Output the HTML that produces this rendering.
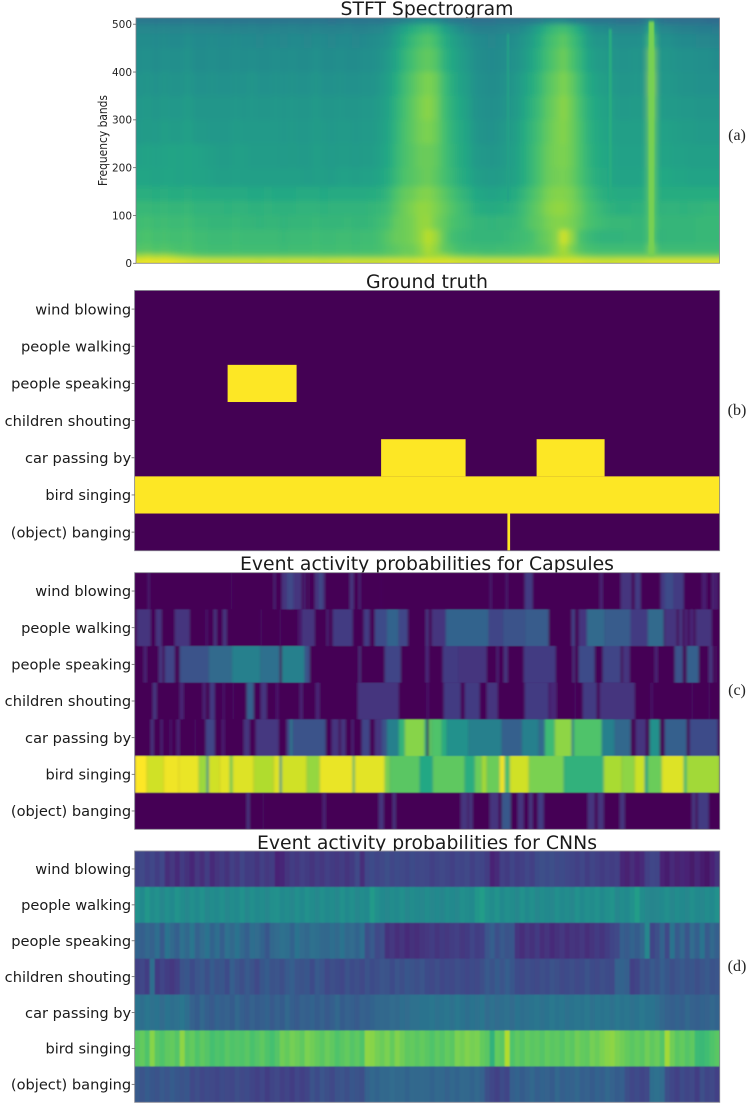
<!DOCTYPE html>
<html lang="en">
<head>
<meta charset="utf-8">
<title>Event activity figure</title>
<style>
html,body{margin:0;padding:0;background:#fff;width:747px;height:1106px;overflow:hidden}
svg{display:block}
.title{font-family:"DejaVu Sans","Liberation Sans",sans-serif;fill:#1a1a1a;text-anchor:middle}
.rowlabel{font-family:"DejaVu Sans","Liberation Sans",sans-serif;font-size:14.6px;fill:#1a1a1a;text-anchor:end}
.tick{font-family:"DejaVu Sans","Liberation Sans",sans-serif;font-size:10.5px;fill:#222;text-anchor:end}
.sub{font-family:"Liberation Serif",serif;font-size:16px;fill:#222;text-anchor:middle}
</style>
</head>
<body>
<svg id="figure" xmlns="http://www.w3.org/2000/svg" width="747" height="1106" viewBox="0 0 747 1106">
<defs>
<filter id="blurSpec" filterUnits="userSpaceOnUse" x="100" y="0" width="647" height="290"><feGaussianBlur stdDeviation="3.2 2.6"/></filter>
<filter id="blurClick" filterUnits="userSpaceOnUse" x="100" y="0" width="647" height="290"><feGaussianBlur stdDeviation="0.8 1.2"/></filter>
<filter id="blurCaps" filterUnits="userSpaceOnUse" x="100" y="560" width="647" height="280"><feGaussianBlur stdDeviation="1.2 0.4"/></filter>
<filter id="blurCnn" filterUnits="userSpaceOnUse" x="100" y="840" width="647" height="270"><feGaussianBlur stdDeviation="0.7 0.4"/></filter>
<clipPath id="clipA"><rect x="136" y="18" width="583.5" height="245.3"/></clipPath>
<clipPath id="clipC"><rect x="134.7" y="572.7" width="585" height="256.6"/></clipPath>
<clipPath id="clipD"><rect x="134.7" y="851" width="585" height="251.3"/></clipPath>
</defs>
<text class="title" x="427" y="15" font-size="19" textLength="173" lengthAdjust="spacingAndGlyphs">STFT Spectrogram</text>
<text class="title" x="427" y="288" font-size="19" textLength="122" lengthAdjust="spacingAndGlyphs">Ground truth</text>
<text class="title" x="427" y="570" font-size="19" textLength="374" lengthAdjust="spacingAndGlyphs">Event activity probabilities for Capsules</text>
<text class="title" x="427" y="849" font-size="19" textLength="340" lengthAdjust="spacingAndGlyphs">Event activity probabilities for CNNs</text>
<text class="tick" transform="translate(107,140.5) rotate(-90)" style="text-anchor:middle;font-size:12.5px" textLength="91" lengthAdjust="spacingAndGlyphs">Frequency bands</text>
<text class="sub" x="737" y="140">(a)</text>
<text class="sub" x="737" y="415">(b)</text>
<text class="sub" x="737" y="695">(c)</text>
<text class="sub" x="737" y="971">(d)</text>
<g id="layerA"></g>
<g id="layerB"></g>
<g id="layerC"></g>
<g id="layerD"></g>
</svg>
<script>
// ---------- shared categories ----------
var eventLabels = ["wind blowing","people walking","people speaking","children shouting","car passing by","bird singing","(object) banging"];
var freqTicks = [0,100,200,300,400,500];

// ---------- spectrogram: band edges (bottom up) and level per band, top row first ----------
var bandEdges = [513,500,480,450,400,350,300,250,200,160,130,100,70,40,20,10,0];
var band500 = [38,38,37,38,37,37,38,37,37,36,37,36,37,36,37,36,36,37,36,37,37,36,37,36,35,36,37,36,36,37,36,38,39,41,43,46,46,45,41,38,37,36,35,35,35,36,36,36,37,38,39,42,43,43,40,38,37,36,36,36,35,35,35,36,44,36,35,35,34,34,34,33,33];
var band480 = [44,44,43,44,43,43,44,43,43,43,43,42,43,42,43,42,42,43,42,43,42,42,43,42,42,42,43,42,42,43,44,46,50,55,60,63,65,63,56,51,46,44,41,41,41,42,43,44,46,50,56,62,66,68,64,58,50,46,46,44,43,43,43,44,60,44,44,42,41,41,40,40,39];
var band450 = [46,46,45,46,45,45,47,45,45,46,45,45,46,45,45,44,45,45,44,45,45,44,46,45,44,45,45,44,45,46,47,49,54,60,65,69,71,68,61,56,52,49,46,45,44,45,46,47,50,54,60,66,70,73,68,62,54,50,50,48,47,47,47,48,70,47,48,46,45,45,44,44,43];
var band400 = [47,48,46,48,47,47,49,46,46,47,46,46,47,46,47,46,46,47,46,47,46,46,48,46,46,47,46,46,47,47,49,52,57,63,68,72,74,71,63,58,54,51,47,46,45,46,47,49,52,57,62,68,72,76,70,64,57,53,52,50,49,49,50,49,78,50,50,49,48,48,47,47,46];
var band350 = [49,50,48,50,49,49,51,48,48,49,48,48,49,48,50,48,48,49,48,49,48,48,50,48,48,49,48,48,49,49,51,54,60,66,71,76,79,76,67,61,56,53,48,47,46,47,49,51,55,60,65,71,75,79,74,67,60,56,54,52,50,50,51,50,80,51,51,50,49,49,48,48,48];
var band300 = [51,52,50,52,51,51,53,50,50,50,50,50,51,50,51,50,50,51,50,51,50,50,52,50,50,51,50,50,51,51,53,56,62,68,73,78,81,77,68,62,58,54,49,48,47,48,50,52,57,62,67,73,77,81,76,69,62,58,56,54,52,52,53,52,78,53,52,52,51,51,50,50,50];
var band250 = [52,53,52,54,53,53,55,52,52,51,51,51,53,52,52,52,52,52,51,52,51,51,53,52,51,52,52,51,52,52,54,57,63,69,73,77,79,76,69,63,59,56,50,49,48,50,52,54,59,64,69,74,78,80,76,70,63,59,57,55,54,54,54,54,76,55,55,54,53,53,52,52,52];
var band200 = [55,56,55,56,57,56,57,56,55,54,53,53,54,54,53,53,53,53,52,53,52,52,54,53,52,53,53,52,53,53,55,58,64,69,72,75,76,74,69,64,60,57,52,51,50,51,53,55,60,65,70,75,78,79,76,70,64,60,58,56,55,55,55,55,75,56,56,55,55,54,54,54,54];
var band160 = [57,57,56,57,57,56,57,56,56,55,54,54,55,54,54,54,54,54,54,54,54,53,54,54,53,55,55,54,55,55,57,60,65,70,72,74,76,73,69,65,61,58,54,53,52,53,54,56,60,65,70,75,77,78,75,70,65,61,59,57,56,56,56,57,74,58,58,57,57,56,56,56,56];
var band130 = [61,61,60,61,60,60,61,60,60,59,59,59,59,59,58,58,59,58,58,58,59,59,59,58,59,59,59,59,59,60,61,64,70,74,76,79,80,77,73,69,65,62,58,57,56,57,58,60,64,69,73,78,80,80,78,73,68,64,61,60,59,59,59,60,74,60,60,60,60,60,60,60,60];
var band100 = [65,65,64,65,64,64,65,63,63,63,63,62,63,63,62,62,63,62,62,62,63,63,63,62,63,63,63,63,63,64,65,67,72,76,79,82,82,79,75,71,68,65,61,60,59,60,61,63,67,71,75,80,82,82,79,75,70,67,64,62,61,61,62,62,73,62,63,63,62,63,63,64,64];
var band70 = [67,68,66,67,66,66,67,65,65,64,64,64,65,64,64,63,64,64,63,64,64,64,65,64,64,64,65,64,64,65,67,69,74,76,78,82,83,78,74,70,68,66,64,64,63,64,64,65,68,72,74,78,80,80,78,74,70,68,66,65,65,65,64,64,73,64,64,64,64,64,65,65,65];
var band40 = [69,70,68,69,68,68,69,67,67,66,66,66,67,66,66,66,66,66,65,66,66,66,67,66,66,67,67,66,67,67,69,72,75,76,78,82,88,84,74,68,66,65,64,64,64,64,65,66,67,69,73,76,80,92,82,70,66,64,63,63,63,64,64,64,72,63,64,64,64,64,65,65,65];
var band20 = [71,72,70,71,70,69,70,68,68,67,67,67,68,67,67,67,67,67,66,67,67,67,68,67,67,68,68,67,68,68,69,71,73,75,76,80,86,82,74,71,68,67,67,66,66,67,67,68,69,70,72,74,80,86,78,72,69,68,67,67,67,67,67,67,78,66,66,66,66,66,66,66,66];
var band10 = [84,86,84,85,83,80,78,76,74,74,74,74,74,74,74,74,74,74,74,74,74,74,74,74,74,74,74,74,74,74,74,75,76,78,78,80,84,84,84,80,78,76,76,74,74,74,74,74,74,76,76,78,82,84,84,80,78,76,76,76,76,76,76,76,76,76,76,76,76,76,76,76,76];
var band0 = [96,97,96,97,96,95,94,93,93,92,92,92,92,92,92,91,92,92,91,92,92,92,92,91,92,92,93,92,92,92,92,93,93,93,93,94,94,94,94,94,93,93,92,92,92,92,92,92,93,93,93,94,94,94,94,94,93,93,92,92,93,93,93,93,94,94,94,94,94,94,94,94,94];
var spectrogramBands = [band500,band480,band450,band400,band350,band300,band250,band200,band160,band130,band100,band70,band40,band20,band10,band0];
// short broadband transients: frame, duration in frames, lowest and highest band, level
var clickFrames = [514,474,372];
var clickDurations = [5.5,3,2];
var clickLow = [16,130,130];
var clickHigh = [506,490,480];
var clickLevels = [78,60,55];

// ---------- ground truth: active intervals in frames [start,end] per event ----------
var gtWind = [];
var gtWalking = [];
var gtSpeaking = [[93,162]];
var gtChildren = [];
var gtCar = [[246.5,331],[402,470]];
var gtBird = [[0,585]];
var gtBanging = [[372.8,375.5]];
var groundTruth = [gtWind,gtWalking,gtSpeaking,gtChildren,gtCar,gtBird,gtBanging];

// ---------- capsules: [start frame, end frame, probability] ----------
var capsWind = [[13,15,.12],[96,98,.05],[139,141,.15],[147,152,.2],[152,159,.27],[159,167,.2],[169,171,.15],[174,175,.1],[180,184,.2],[184,188,.27],[188,190,.2],[215,219,.2],[224,226,.15],[246,247,.05],[355,357,.12],[371,373,.12],[390,398,.22],[465,468,.15],[486,497,.2],[500,506,.22],[526,530,.22],[530,539,.28],[539,549,.22],[567,572,.12],[577,580,.15],[581,583,.15]];
var capsWalking = [[2,16,.2],[21,27,.2],[40,55,.2],[71,73,.1],[79,82,.2],[88,92,.2],[126,127,.1],[145,146,.1],[163,167,.1],[167,180,.2],[192,194,.15],[198,218,.22],[229,235,.22],[240,252,.28],[252,264,.36],[264,273,.26],[291,294,.2],[297,311,.2],[311,354,.36],[354,368,.25],[368,390,.3],[390,414,.33],[437,440,.25],[444,452,.2],[452,470,.38],[470,496,.33],[496,513,.22],[513,529,.38],[530,542,.2],[544,548,.2],[550,553,.15],[555,559,.15],[561,577,.2]];
var capsSpeaking = [[9,12,.15],[24,28,.2],[30,40,.25],[45,74,.3],[74,97,.38],[97,126,.45],[126,145,.4],[147,170,.45],[170,175,.3],[224,226,.2],[250,266,.25],[291,294,.17],[308,324,.22],[324,352,.2],[362,364,.15],[369,373,.2],[389,421,.22],[438,440,.2],[444,460,.28],[468,486,.25],[488,495,.2],[520,523,.15],[540,548,.3],[552,564,.35],[574,578,.2],[581,582,.1]];
var capsChildren = [[18,22,.2],[45,49,.15],[68,71,.15],[75,80,.22],[88,90,.1],[98,99,.1],[112,119,.35],[126,132,.2],[141,144,.1],[165,168,.15],[181,185,.15],[223,264,.2],[292,294,.1],[309,326,.22],[330,345,.22],[352,363,.2],[390,414,.22],[415,422,.15],[440,441,.1],[448,462,.22],[465,500,.2],[516,518,.1],[557,558,.1],[574,575,.1]];
var capsCar = [[16,19,.2],[26,28,.15],[35,37,.1],[42,45,.15],[60,61,.1],[71,80,.25],[87,90,.12],[109,115,.2],[121,144,.21],[152,155,.25],[155,158,.42],[158,191,.3],[197,204,.2],[206,211,.2],[217,219,.15],[227,235,.25],[240,247,.2],[247,252,.3],[252,264,.45],[264,270,.65],[270,290,.82],[290,292,.6],[294,297,.75],[297,307,.72],[307,312,.62],[312,334,.5],[334,367,.45],[367,387,.35],[387,404,.45],[404,410,.38],[410,420,.68],[420,437,.83],[437,439,.45],[439,467,.72],[467,480,.45],[480,496,.37],[501,511,.2],[515,525,.5],[530,552,.35],[555,583,.28]];
var capsBird = [[0,12,1],[12,29,.93],[29,44,.98],[44,64,.97],[64,72,.85],[72,74,.5],[74,85,.93],[85,95,.96],[95,98,.8],[98,119,.95],[119,139,.88],[139,145,.95],[145,147,.55],[147,172,.93],[172,185,.84],[185,218,.97],[218,220,.7],[220,250,.96],[250,255,.8],[255,285,.74],[285,298,.6],[298,330,.75],[330,340,.62],[340,347,.77],[347,352,.86],[352,365,.77],[365,370,.98],[370,375,.7],[375,394,.93],[394,429,.8],[429,469,.64],[469,487,.87],[487,500,.83],[500,510,.92],[510,513,.6],[513,527,.77],[527,549,.95],[549,552,.7],[552,585,.86]];
var capsBanging = [[112,115,.2],[128,129,.08],[188,191,.15],[244,249,.2],[258,261,.2],[326,333,.2],[334,338,.2],[355,364,.2],[367,376,.32],[383,389,.2],[394,398,.2],[403,409,.22],[453,460,.2],[463,469,.2],[485,490,.2],[557,561,.2],[563,574,.22]];
var capsuleRows = [capsWind,capsWalking,capsSpeaking,capsChildren,capsCar,capsBird,capsBanging];

// ---------- CNNs: probability (percent) per time bin ----------
var cnnWind = [20,22,19,21,18,21,13,16,12,17,14,11,16,13,18,12,15,17,14,19,16,20,17,18,15,19,16,18,10,11,15,18,16,19,17,15,18,16,19,17,16,18,15,17,22,13,21,23,20,22,24,21,23,22,20,23,21,22,21,19,20,22,20,19,21,20,22,19,21,20,18,10,12,19,17,20,18,19,21,19,23,24,23,24,22,23,21,20,19,21,18,20,19,17,19,18,19,11,9,13,10,12,19,21,20,10,8,12,9,11,10,7,11,8,6,10,14];
var cnnWalking = [50,47,52,48,50,46,49,47,51,48,46,49,47,50,46,48,47,49,46,48,47,50,46,49,47,48,46,49,50,47,48,46,49,47,50,48,46,49,47,48,46,50,47,49,46,48,47,54,49,47,46,48,47,49,46,48,47,46,48,46,47,45,48,47,46,49,48,47,52,55,50,48,51,47,49,48,46,50,47,49,46,48,47,46,49,47,48,46,50,47,49,48,50,47,49,51,46,48,47,50,55,48,46,45,46,47,49,46,48,47,46,49,47,46,48,47,50];
var cnnSpeaking = [32,30,33,31,36,28,38,34,30,37,33,39,31,35,38,32,36,30,37,34,38,33,30,36,35,32,27,33,35,37,36,32,38,35,33,37,36,34,33,36,34,38,33,35,32,36,24,28,22,24,14,16,13,15,12,14,13,15,16,18,15,17,16,18,19,16,17,20,18,19,26,30,24,28,25,27,15,13,16,14,17,13,15,12,14,16,13,15,14,16,13,15,17,15,18,20,22,30,28,32,29,33,46,20,24,32,22,38,28,34,26,35,30,38,28,34,30];
var cnnChildren = [19,21,18,36,17,20,18,16,19,25,27,23,26,28,24,29,25,27,23,30,26,24,28,25,22,27,29,25,26,24,28,30,26,25,27,23,28,26,22,24,23,21,25,23,24,22,25,23,24,26,25,23,26,24,27,25,24,26,23,22,24,21,23,22,24,23,21,23,22,24,28,25,29,26,30,27,23,22,24,23,22,24,23,25,24,22,23,24,22,23,25,23,22,24,23,22,31,32,30,19,20,26,24,28,25,30,27,24,26,28,25,27,24,26,28,25,26];
var cnnCar = [38,36,39,37,38,35,38,36,37,39,36,31,29,33,30,28,32,30,31,29,33,30,28,31,29,30,32,28,31,29,33,30,28,31,30,32,29,31,28,30,33,29,31,30,28,31,30,32,33,34,33,35,34,36,35,37,37,38,38,39,37,38,39,37,40,38,36,38,37,39,35,37,35,36,37,35,38,36,37,38,39,37,38,40,38,39,37,38,39,38,40,37,39,38,39,37,40,38,39,37,38,40,38,38,36,33,31,30,32,30,33,31,30,32,31,33,32];
var cnnBird = [74,76,72,82,74,72,75,76,73,83,74,76,72,75,73,70,72,71,74,72,73,72,74,71,73,75,72,70,73,78,76,79,77,75,80,78,76,74,77,75,72,74,76,73,75,72,83,82,79,77,80,76,81,78,75,76,74,76,74,72,75,73,76,74,80,78,81,79,80,76,74,64,76,74,88,72,75,73,76,74,75,73,76,74,75,73,76,74,78,76,75,79,77,80,82,83,80,78,76,74,76,74,78,75,77,73,86,78,74,76,73,75,68,67,69,72,74];
var cnnBanging = [28,26,29,27,25,28,26,29,27,25,27,22,24,21,23,22,20,23,22,21,24,22,23,20,19,21,18,20,22,19,20,18,21,19,20,25,23,26,24,22,25,26,24,27,25,24,31,33,32,34,33,35,33,34,32,34,33,34,33,32,34,33,31,33,32,34,33,32,34,31,24,21,19,23,20,30,32,29,31,33,30,32,31,29,33,30,32,31,33,30,31,29,32,30,33,31,29,30,24,21,23,20,22,36,37,35,24,21,19,23,20,22,18,24,20,22,19];
var cnnRows = [cnnWind,cnnWalking,cnnSpeaking,cnnChildren,cnnCar,cnnBird,cnnBanging];

// ---------- helpers ----------
var NS = 'http://www.w3.org/2000/svg';
var FRAMES = 585;
var MAXBAND = 513;
var stops = [[68,1,84],[72,36,117],[65,68,135],[53,95,141],[42,120,142],[33,145,140],[34,168,132],[68,191,112],[122,209,81],[189,223,38],[253,231,37]];
function viridis(v){
  v = Math.max(0,Math.min(1,v));
  var p = v*(stops.length-1), i = Math.min(Math.floor(p),stops.length-2), f = p-i;
  var c = [0,1,2].map(function(k){return Math.round(stops[i][k]+(stops[i+1][k]-stops[i][k])*f);});
  return 'rgb('+c.join(',')+')';
}
// colour normalisation per panel
function spectroColor(level){return viridis((level+3)/102);}
function capsColor(v){return viridis(v<.5 ? v*(.6+.8*v) : v);}
function rect(parent,x,y,w,h,fill){
  var r = document.createElementNS(NS,'rect');
  r.setAttribute('x',x);r.setAttribute('y',y);r.setAttribute('width',w);r.setAttribute('height',h);r.setAttribute('fill',fill);
  parent.appendChild(r);
  return r;
}
function group(parent,attrs){
  var g = document.createElementNS(NS,'g');
  for(var k in attrs){g.setAttribute(k,attrs[k]);}
  parent.appendChild(g);
  return g;
}
function panelAxes(p){
  return {
    x:function(t){return p.x+t/FRAMES*p.w;},
    row:function(i){return p.y+i*p.h/eventLabels.length;},
    rowH:p.h/eventLabels.length
  };
}
function frame(parent,p){
  var r = rect(parent,p.x,p.y,p.w,p.h,'none');
  r.setAttribute('stroke','rgba(125,125,135,.85)');
  r.setAttribute('stroke-width','0.9');
  
  
}
function tickMark(parent,x,y){
  var l = rect(parent,x-3,y-0.4,3,0.8,'#666');
  
  
}
function rowLabels(parent,p,ax){
  eventLabels.forEach(function(name,i){
    var cy = ax.row(i)+ax.rowH/2;
    tickMark(parent,p.x,cy);
    var t = document.createElementNS(NS,'text');
    t.setAttribute('class','rowlabel');
    t.setAttribute('x',p.x-3.5);
    t.setAttribute('y',cy+5.2);
    t.textContent = name;
    
    
    parent.appendChild(t);
  });
}

// ---------- panel (a) spectrogram ----------
(function(){
  var p = {x:136,y:18,w:583.5,h:245.3};
  var layer = document.getElementById('layerA');
  var yBand = function(b){return p.y+p.h-b/MAXBAND*p.h;};
  var clip = group(layer,{'clip-path':'url(#clipA)'});
  var blur = group(clip,{filter:'url(#blurSpec)'});
  spectrogramBands.forEach(function(vals,b){
    var cw = p.w/vals.length;
    var y0 = yBand(bandEdges[b]), y1 = yBand(bandEdges[b+1]);
    if(b===0){y0-=12;}
    if(b===spectrogramBands.length-1){y1+=12;}
    vals.forEach(function(v,c){
      var x0 = p.x+c*cw, x1 = x0+cw+0.6;
      if(c===0){x0-=12;}
      if(c===vals.length-1){x1+=12;}
      var cell = rect(blur,x0,y0,x1-x0,y1-y0+0.6,spectroColor(v));
      
      
    });
  });
  var clicks = group(clip,{filter:'url(#blurClick)'});
  clickFrames.forEach(function(f,i){
    var x = p.x+f/FRAMES*p.w;
    var w = clickDurations[i]/FRAMES*p.w;
    var c = rect(clicks,x,yBand(clickHigh[i]),w,yBand(clickLow[i])-yBand(clickHigh[i]),spectroColor(clickLevels[i]));
    
    
  });
  frame(layer,p);
  freqTicks.forEach(function(b){
    tickMark(layer,p.x,yBand(b));
    var t = document.createElementNS(NS,'text');
    t.setAttribute('class','tick');
    t.setAttribute('x',p.x-4);
    t.setAttribute('y',yBand(b)+3.8);
    t.textContent = b;
    
    
    layer.appendChild(t);
  });
})();

// ---------- panel (b) ground truth ----------
(function(){
  var p = {x:134.6,y:290.5,w:585,h:260.2};
  var ax = panelAxes(p);
  var layer = document.getElementById('layerB');
  var bg = rect(layer,p.x,p.y,p.w,p.h,viridis(0));
  
  
  groundTruth.forEach(function(spans,i){
    spans.forEach(function(s){
      var r = rect(layer,ax.x(s[0]),ax.row(i),ax.x(s[1])-ax.x(s[0]),ax.rowH,viridis(1));
      
      
    });
  });
  frame(layer,p);
  rowLabels(layer,p,ax);
})();

// ---------- panel (c) capsules ----------
(function(){
  var p = {x:134.7,y:572.7,w:585,h:256.6};
  var ax = panelAxes(p);
  var layer = document.getElementById('layerC');
  var clip = group(layer,{'clip-path':'url(#clipC)'});
  var blur = group(clip,{filter:'url(#blurCaps)'});
  var bg = rect(blur,p.x-8,p.y-8,p.w+16,p.h+16,viridis(0));
  
  
  capsuleRows.forEach(function(segs,i){
    segs.forEach(function(s){
      var r = rect(blur,ax.x(s[0]),ax.row(i),ax.x(s[1])-ax.x(s[0]),ax.rowH,capsColor(s[2]));
      
      
    });
  });
  frame(layer,p);
  rowLabels(layer,p,ax);
})();

// ---------- panel (d) CNNs ----------
(function(){
  var p = {x:134.7,y:851,w:585,h:251.3};
  var ax = panelAxes(p);
  var layer = document.getElementById('layerD');
  var clip = group(layer,{'clip-path':'url(#clipD)'});
  var blur = group(clip,{filter:'url(#blurCnn)'});
  cnnRows.forEach(function(vals,i){
    var bw = FRAMES/vals.length;
    vals.forEach(function(v,k){
      var x0 = ax.x(k*bw), x1 = ax.x((k+1)*bw)+0.5;
      if(k===0){x0-=6;}
      if(k===vals.length-1){x1+=6;}
      var r = rect(blur,x0,ax.row(i),x1-x0,ax.rowH+0.4,viridis(v/100));
      
      
    });
  });
  frame(layer,p);
  rowLabels(layer,p,ax);
})();
</script>
</body>
</html>
